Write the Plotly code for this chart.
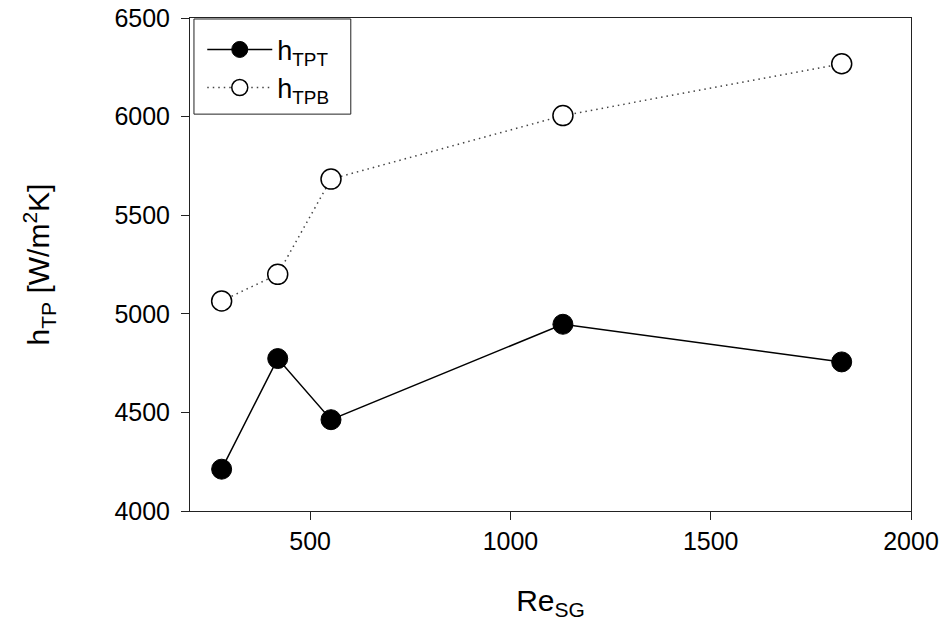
import plotly.graph_objects as go

re_sg = [279, 419, 552, 1131, 1827]
h_tpt = [4212, 4773, 4463, 4947, 4756]
h_tpb = [5065, 5200, 5683, 6005, 6268]

x_ticks = [500, 1000, 1500, 2000]
y_ticks = [4000, 4500, 5000, 5500, 6000, 6500]

fig = go.Figure()
fig.add_trace(go.Scatter(
    x=re_sg, y=h_tpt, mode="lines+markers", name="h<sub>TPT</sub>",
    line=dict(color="black", width=1.5),
    marker=dict(symbol="circle", size=20, color="black", line=dict(color="black", width=1)),
))
fig.add_trace(go.Scatter(
    x=re_sg, y=h_tpb, mode="lines+markers", name="h<sub>TPB</sub>",
    line=dict(color="#444444", width=1.5, dash="1.5px,4px"),
    marker=dict(symbol="circle", size=20, color="white", line=dict(color="black", width=1.5)),
))

axis_common = dict(
    showline=True, linecolor="#222222", linewidth=1, mirror=True,
    ticks="outside", ticklen=8, tickcolor="#222222", tickwidth=1,
    showgrid=False, zeroline=False, automargin=False,
    tickfont=dict(family="Liberation Sans, Arial", size=25, color="black"),
)

fig.update_layout(
    width=947, height=624,
    margin=dict(l=190, r=36, t=18, b=113),
    paper_bgcolor="white", plot_bgcolor="white",
    font=dict(family="Liberation Sans, Arial", color="black"),
    showlegend=True,
    legend=dict(
        x=0.017, y=0.985, xanchor="left", yanchor="top",
        borderwidth=0, bgcolor="rgba(0,0,0,0)",
        font=dict(size=27, family="Liberation Sans, Arial"),
        itemwidth=65, tracegroupgap=0,
    ),
    shapes=[dict(
        type="rect", xref="paper", yref="paper",
        x0=0.0055, x1=0.223, y0=0.805, y1=0.998,
        line=dict(color="#222222", width=1), fillcolor="rgba(0,0,0,0)", layer="below",
    )],
    xaxis=dict(
        range=[200, 2000], tickvals=x_ticks, ticktext=[str(v) for v in x_ticks],
        title=dict(text="Re<sub>SG</sub>", font=dict(size=30), standoff=35),
        **axis_common,
    ),
    yaxis=dict(
        range=[4000, 6500], tickvals=y_ticks, ticktext=[str(v) for v in y_ticks],
        title=dict(text="h<sub>TP</sub> [W/m<sup>2</sup>K]", font=dict(size=30), standoff=55),
        ticklabelstandoff=6,
        **axis_common,
    ),
)

fig.write_html("out.html")
